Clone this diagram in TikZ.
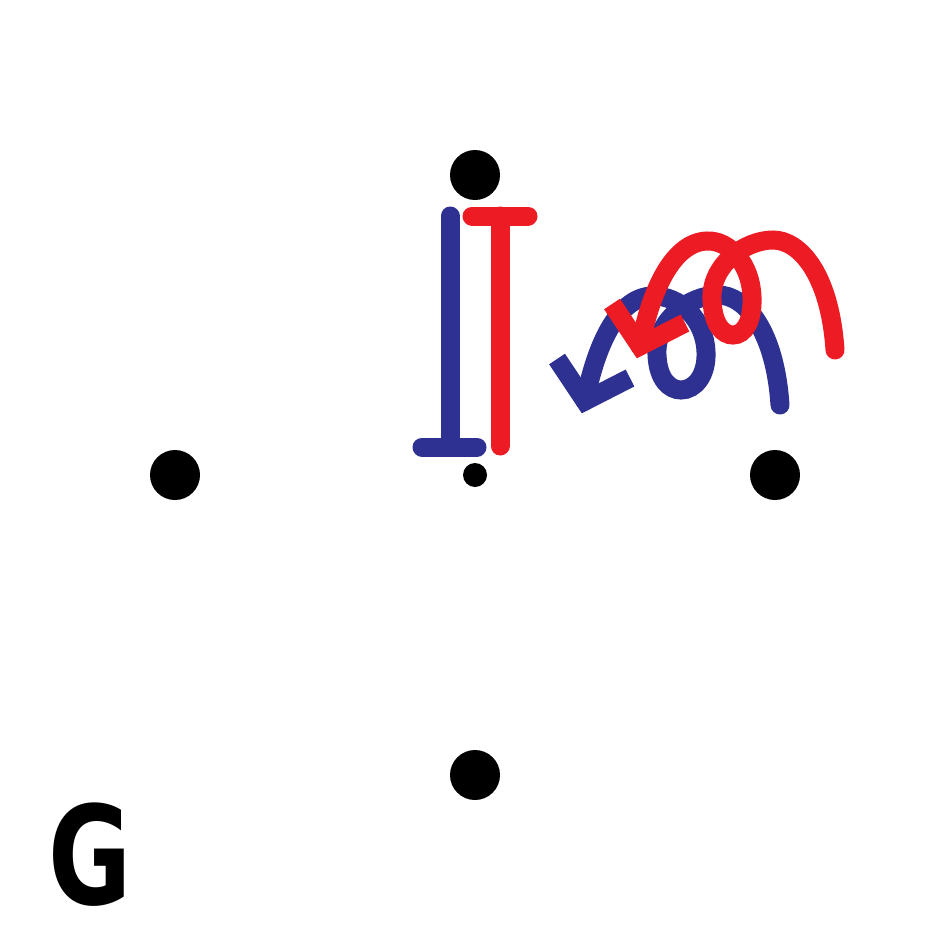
\documentclass[tikz,border=0pt]{standalone}
\usepackage{fontspec}
\setmainfont{DejaVu Sans}
\definecolor{myblue}{RGB}{46,49,146}
\definecolor{myred}{RGB}{237,28,36}
\begin{document}
\begin{tikzpicture}[x=1pt,y=-1pt,
 dot/.style={circle,fill=black,inner sep=0pt,minimum size=50pt},
 smalldot/.style={circle,fill=black,inner sep=0pt,minimum size=24pt},
 bar/.style={line width=19pt,line cap=round},
 curly/.style={line width=19pt,line cap=round},
 chev/.style={line width=19pt,line cap=butt,line join=miter}]
\useasboundingbox[fill=white] (0,0) rectangle (950,950);
\node[dot] (n) at (475,175) {};
\node[dot] (w) at (175,475) {};
\node[dot] (e) at (775,475) {};
\node[dot] (s) at (475,775) {};
\node[smalldot] (c) at (475,475) {};
% blue I-bar
\draw[bar,myblue] (450,216) -- (450,447);
\draw[bar,myblue] (422,447) -- (477,447);
% red T-bar
\draw[bar,myred] (500,216) -- (500,446);
\draw[bar,myred] (472,216) -- (528,216);
% blue pigtail arrow
\draw[curly,myblue] (780,405) .. controls (775,330) and (745,295) .. (718,295)
  .. controls (690,295) and (655,320) .. (657,355)
  .. controls (658,380) and (670,390) .. (681,390)
  .. controls (695,390) and (707,375) .. (706,352)
  .. controls (705,320) and (680,295) .. (652,296)
  .. controls (620,297) and (597,340) .. (585,401);
\draw[chev,myblue] (557,359) -- (585,401) -- (630,378);
% red pigtail arrow
\draw[curly,myred] (835,350) .. controls (830,275) and (800,240) .. (773,240)
  .. controls (745,240) and (710,265) .. (712,300)
  .. controls (713,325) and (723,335) .. (733,335)
  .. controls (745,335) and (753,320) .. (752,297)
  .. controls (751,265) and (730,240) .. (707,241)
  .. controls (675,242) and (652,285) .. (640,346);
\draw[chev,myred] (612,304) -- (640,346) -- (685,323);
% label
\node[anchor=base,inner sep=0pt,font=\bfseries\fontsize{137}{137}\selectfont] (g) at (90,904) {\scalebox{0.74}[1]{G}};
\end{tikzpicture}
\end{document}
